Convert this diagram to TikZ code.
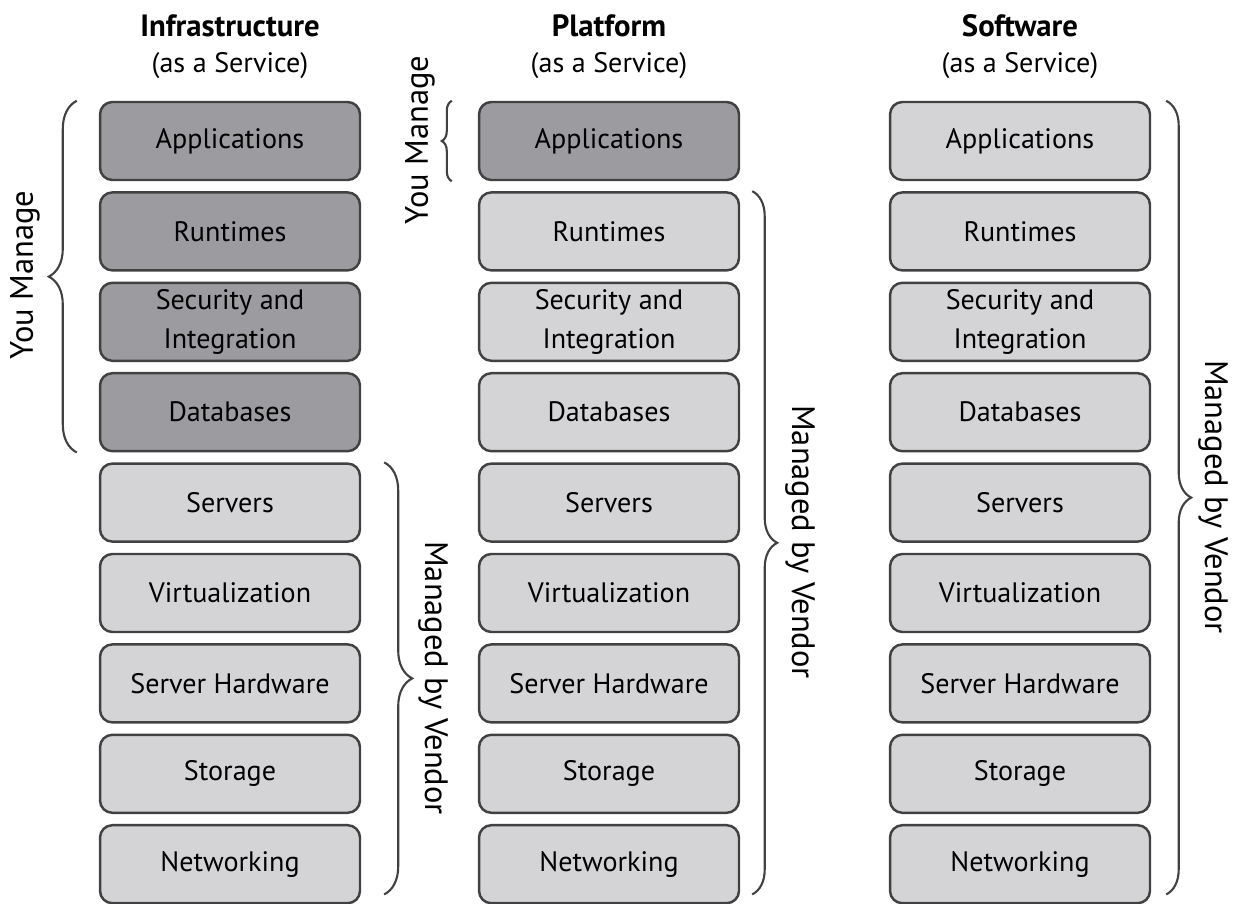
\documentclass[tikz,border=0pt]{standalone}
\usepackage{fontspec}
\setmainfont{PT Sans}
\usetikzlibrary{calc,decorations.pathreplacing}
\definecolor{darkbox}{RGB}{155,155,160}
\definecolor{lightbox}{RGB}{212,212,215}
\definecolor{edge}{RGB}{65,65,65}

\begin{document}
\begin{tikzpicture}[x=0.02cm, y=-0.02cm, font=\fontsize{16}{22}\selectfont,
  layer/.style={draw=edge, line width=1.4pt, rounded corners=7pt, fill=lightbox,
    minimum width=5.2cm, minimum height=1.56cm, inner sep=0pt, align=center},
  head/.style={font=\fontsize{17.5}{20}\selectfont\bfseries},
  side/.style={font=\fontsize{18.5}{20}\selectfont},
  grp/.style={decorate, draw=edge, line width=1.2pt, decoration={brace, amplitude=#1}},
  grp/.default=0.56cm]
  \useasboundingbox (0,0) rectangle (1233,903);

  \foreach \col/\cx/\ndark/\heading in {i/230/4/Infrastructure, p/609/1/Platform, s/1020/0/Software} {
    \node[head] (head\col) at (\cx,26) {\heading};
    \node (sub\col) at (\cx,66) {(as a Service)};
    \foreach \name/\txt [count=\i from 0] in {app/Applications, run/Runtimes,
        sec/{Security and\\Integration}, db/Databases, srv/Servers, virt/Virtualization,
        hw/Server Hardware, sto/Storage, net/Networking} {
      \ifnum\i<\ndark \def\boxcol{darkbox}\else\def\boxcol{lightbox}\fi
      \node[layer, fill=\boxcol] (\col\name) at (\cx,141+90.4*\i) {\txt};
    }
  }

  \draw[grp] ($(idb.south west)+(-22,0)$) -- ($(iapp.north west)+(-22,0)$);
  \node[side, rotate=90] (iyou) at (25,275) {You Manage};
  \draw[grp] ($(isrv.north east)+(23,0)$) -- ($(inet.south east)+(23,-10)$);
  \node[side, rotate=-90] (ivendor) at (433,678) {Managed by Vendor};

  \draw[grp=0.2cm] ($(papp.south west)+(-26,0)$) -- ($(papp.north west)+(-26,0)$);
  \node[side, rotate=90] (pyou) at (420,140) {You Manage};
  \draw[grp=0.5cm] ($(prun.north east)+(12,0)$) -- ($(pnet.south east)+(12,-10)$);
  \node[side, rotate=-90] (pvendor) at (800,542) {Managed by Vendor};

  \draw[grp=0.5cm] ($(sapp.north east)+(15,0)$) -- ($(snet.south east)+(15,-10)$);
  \node[side, rotate=-90] (svendor) at (1213,497) {Managed by Vendor};
\end{tikzpicture}
\end{document}
